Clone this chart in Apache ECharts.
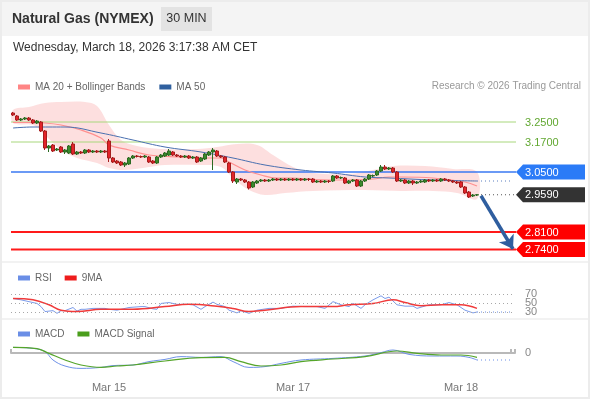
<!DOCTYPE html>
<html>
<head>
<meta charset="utf-8">
<script src="https://cdn.jsdelivr.net/npm/echarts@6/dist/echarts.min.js"></script>
<style>
  html, body { margin: 0; padding: 0; background: #fff; }
  #chart { width: 590px; height: 400px; }
</style>
</head>
<body>
<div id="chart"></div>
<script>
// 30 min candles, [open, close, low, high]
const candles = [
  [3.286,3.278,3.274,3.290],[3.274,3.258,3.254,3.278],[3.258,3.262,3.254,3.266],[3.262,3.266,3.258,3.270],
  [3.266,3.258,3.254,3.270],[3.258,3.246,3.242,3.262],[3.246,3.254,3.242,3.258],[3.250,3.214,3.210,3.254],
  [3.214,3.146,3.138,3.218],[3.146,3.154,3.130,3.158],[3.158,3.134,3.130,3.162],[3.138,3.142,3.134,3.146],
  [3.150,3.130,3.126,3.154],[3.130,3.138,3.122,3.142],[3.126,3.154,3.122,3.158],[3.162,3.122,3.118,3.170],
  [3.122,3.130,3.118,3.134],[3.130,3.126,3.122,3.134],[3.126,3.138,3.122,3.142],[3.138,3.130,3.126,3.142],
  [3.130,3.134,3.126,3.138],[3.134,3.130,3.126,3.138],[3.130,3.134,3.126,3.138],[3.134,3.130,3.126,3.138],
  [3.174,3.106,3.090,3.182],[3.106,3.090,3.086,3.110],[3.094,3.086,3.082,3.098],[3.090,3.078,3.074,3.094],
  [3.078,3.086,3.070,3.090],[3.082,3.106,3.078,3.110],[3.106,3.114,3.102,3.118],[3.114,3.112,3.108,3.118],
  [3.112,3.110,3.106,3.116],[3.110,3.114,3.106,3.118],[3.110,3.090,3.086,3.114],[3.094,3.086,3.082,3.098],
  [3.086,3.110,3.082,3.114],[3.110,3.118,3.106,3.122],[3.114,3.126,3.110,3.130],[3.118,3.134,3.114,3.142],
  [3.130,3.118,3.114,3.134],[3.118,3.114,3.110,3.122],[3.114,3.110,3.106,3.118],[3.110,3.114,3.106,3.118],
  [3.114,3.106,3.102,3.118],[3.106,3.110,3.102,3.114],[3.110,3.090,3.086,3.114],[3.094,3.106,3.090,3.110],
  [3.102,3.122,3.098,3.126],[3.118,3.130,3.114,3.134],[3.130,3.138,3.058,3.146],[3.134,3.114,3.110,3.138],
  [3.114,3.110,3.106,3.118],[3.110,3.090,3.086,3.114],[3.086,3.050,3.046,3.090],[3.050,3.014,3.006,3.054],
  [3.010,3.022,3.002,3.026],[3.022,3.018,3.014,3.026],[3.018,3.010,3.006,3.022],[3.010,2.986,2.980,3.014],
  [2.990,3.010,2.986,3.014],[3.006,3.014,3.002,3.018],[3.014,3.018,3.010,3.022],[3.018,3.014,3.010,3.022],
  [3.014,3.018,3.010,3.022],[3.018,3.022,3.014,3.026],[3.022,3.018,3.014,3.026],[3.018,3.022,3.014,3.026],
  [3.022,3.018,3.014,3.026],[3.018,3.022,3.014,3.026],[3.022,3.018,3.014,3.026],[3.018,3.022,3.014,3.026],
  [3.022,3.018,3.014,3.026],[3.018,3.022,3.014,3.026],[3.022,3.020,3.014,3.026],[3.022,3.010,3.006,3.026],
  [3.010,3.014,3.006,3.018],[3.014,3.010,3.006,3.018],[3.010,3.014,3.006,3.018],[3.014,3.012,3.006,3.018],
  [3.014,3.034,3.010,3.038],[3.034,3.026,3.022,3.038],[3.026,3.028,3.022,3.032],[3.026,3.006,3.002,3.030],
  [3.006,3.014,3.002,3.018],[3.014,3.018,3.010,3.022],[3.018,2.994,2.990,3.022],[2.994,3.014,2.990,3.018],
  [3.014,3.022,3.010,3.026],[3.022,3.038,3.018,3.042],[3.034,3.036,3.030,3.040],[3.038,3.054,3.034,3.058],
  [3.054,3.070,3.050,3.078],[3.070,3.062,3.058,3.078],[3.062,3.066,3.058,3.070],[3.066,3.050,3.046,3.070],
  [3.050,3.014,3.010,3.054],[3.014,3.018,3.010,3.022],[3.018,3.006,3.002,3.022],[3.006,3.014,3.002,3.018],
  [3.014,3.006,2.998,3.018],[3.006,3.010,3.002,3.014],[3.010,3.014,3.006,3.018],[3.010,3.018,3.006,3.022],
  [3.018,3.014,3.010,3.022],[3.014,3.018,3.010,3.022],[3.018,3.014,3.010,3.022],[3.014,3.022,3.010,3.026],
  [3.022,3.018,3.014,3.026],[3.018,3.014,3.010,3.022],[3.014,3.010,3.006,3.018],[3.010,3.006,3.002,3.014],
  [3.010,2.990,2.986,3.014],[2.990,2.966,2.962,2.994],[2.970,2.950,2.946,2.974],[2.954,2.958,2.950,2.962],
  [2.958,2.959,2.954,2.962]
];

// indicator readings [slot, value]
const ma20 = [[0,3.248],[4,3.248],[8,3.246],[12,3.238],[17,3.218],[22,3.186],[24,3.158],[29,3.138],[34,3.118],
  [42,3.110],[47,3.106],[52,3.106],[54,3.090],[58,3.058],[62,3.038],[66,3.026],[70,3.026],[75,3.020],[84,3.018],
  [90,3.022],[94,3.030],[97,3.030],[105,3.026],[113,3.010],[116,2.994]];
const ma50 = [[0,3.226],[5,3.230],[13,3.230],[22,3.206],[30,3.178],[38,3.150],[47,3.130],[55,3.106],[63,3.078],
  [72,3.058],[80,3.046],[88,3.030],[94,3.026],[105,3.018],[116,3.014]];
const bbUpper = [[0,3.298],[4,3.310],[8,3.326],[12,3.330],[18,3.330],[21,3.314],[24,3.238],[27,3.178],[31,3.154],
  [37,3.142],[46,3.142],[51,3.150],[56,3.162],[61,3.158],[65,3.118],[70,3.070],[75,3.046],[84,3.042],[90,3.058],
  [95,3.074],[103,3.074],[110,3.062],[116,3.050]];
const bbLower = [[0,3.246],[5,3.238],[8,3.198],[12,3.138],[16,3.106],[21,3.086],[24,3.066],[28,3.058],[34,3.070],
  [38,3.078],[47,3.078],[52,3.070],[55,3.026],[59,2.978],[63,2.958],[68,2.966],[75,2.974],[88,2.978],[97,2.974],
  [105,2.974],[111,2.966],[116,2.942]];
const rsi = [[0,60],[2,57],[5,51],[6,49],[7,42],[8,31],[9,32],[10,33],[11,27],[12,33],[13,33],[15,40],[16,32],
  [17,36],[18,36],[20,38],[23,38],[24,36],[26,34],[29,40],[32,42],[33,42],[35,37],[36,36],[37,49],[39,51],[41,47],
  [43,47],[45,46],[47,36],[48,42],[50,52],[51,47],[53,42],[54,34],[56,28],[57,33],[59,27],[61,34],[64,38],[67,38],
  [70,43],[73,42],[76,42],[78,38],[80,53],[82,46],[84,42],[85,49],[87,38],[88,46],[90,57],[92,66],[93,60],[94,63],
  [96,46],[98,43],[100,43],[101,38],[104,46],[107,46],[109,51],[111,46],[113,34],[115,28],[116,30]];
const rsiMa9 = [[0,60],[5,57],[9,46],[12,34],[16,31],[22,36],[30,36],[38,42],[44,47],[51,43],[55,38],[59,31],
  [63,34],[72,42],[80,42],[84,46],[90,49],[95,57],[98,51],[102,44],[107,46],[112,46],[116,38]];
const macd = [[0,0.0028],[5,0.0023],[8,0.0007],[10,-0.0035],[13,-0.0065],[17,-0.0077],[22,-0.0072],[25,-0.0063],
  [30,-0.0060],[34,-0.0043],[38,-0.0032],[42,-0.0018],[47,-0.0022],[52,-0.0018],[55,-0.0043],[59,-0.0072],
  [63,-0.0068],[67,-0.0052],[72,-0.0035],[80,-0.0027],[88,-0.0015],[92,0.0002],[95,0.0015],[99,-0.0007],
  [105,-0.0015],[111,-0.0015],[114,-0.0022],[116,-0.0035]];
const macdSignal = [[0,0.0028],[6,0.0022],[9,-0.0002],[13,-0.0035],[17,-0.0060],[22,-0.0072],[26,-0.0065],
  [30,-0.0060],[38,-0.0040],[47,-0.0023],[53,-0.0022],[57,-0.0043],[62,-0.0065],[67,-0.0060],[72,-0.0043],
  [80,-0.0030],[88,-0.0018],[96,0.0010],[101,-0.0002],[107,-0.0010],[112,-0.0010],[116,-0.0022]];

// key levels and target arrow
const levelPrices = [3.25, 3.17, 3.05, 2.959, 2.81, 2.74];
const levelLabels = ['3.2500', '3.1700', '3.0500', '2.9590', '2.8100', '2.7400'];
const arrowFrom = [117, 2.955];
const arrowTo = [125, 2.742];

// x axis
const slotCount = 126;
const dayLabels = ['Mar 15', 'Mar 17', 'Mar 18'];
const dayLabelSlots = [24, 70, 112];
const rsiTicks = [30, 50, 70];

const categories = [];
for (let i = 0; i < slotCount; i++) categories.push('s' + i);
const lastSlot = candles.length - 1;
const endSlot = slotCount - 1;

const FONT = '"Liberation Sans", Arial, sans-serif';
const levelLook = [
  { line: '#a8d77c', width: 1, text: '#62a832' },
  { line: '#a8d77c', width: 1, text: '#62a832' },
  { line: '#3a78f2', width: 1.5, text: '#fff', tag: '#2b7bf7' },
  { dotted: '#555', text: '#fff', tag: '#333' },
  { line: '#ff1a1a', width: 2, text: '#fff', tag: '#ff0000' },
  { line: '#ff1a1a', width: 2, text: '#fff', tag: '#ff0000' }
];

const chart = echarts.init(document.getElementById('chart'));

function xAxisFor(idx, show) {
  return {
    type: 'category', gridIndex: idx, data: categories, boundaryGap: true, show: true,
    axisLine: { show: show, lineStyle: { color: '#b9b9b9', width: 2 } },
    axisTick: {
      show: show, inside: true, length: 4, lineStyle: { color: '#b9b9b9', width: 2 },
      interval: function (i) { return i === 0 || i === endSlot; }
    },
    axisLabel: {
      show: show, interval: 0, color: '#777', fontSize: 11, fontFamily: FONT, margin: 9,
      formatter: function (v, i) {
        const k = dayLabelSlots.indexOf(i);
        return k >= 0 ? dayLabels[k] : '';
      }
    },
    splitLine: { show: false }
  };
}

function ext(data, idx, color) {
  const last = data[data.length - 1][1];
  return {
    type: 'line', xAxisIndex: idx, yAxisIndex: idx, silent: true, showSymbol: false, z: 3,
    data: [[lastSlot, last], [endSlot, last]],
    lineStyle: { color: color, width: 1, type: [1, 3] }
  };
}

const option = {
  animation: false,
  backgroundColor: '#fff',
  textStyle: { fontFamily: FONT },
  graphic: [
    { type: 'rect', shape: { x: 0, y: 0, width: 590, height: 36 }, style: { fill: '#f4f4f4' }, z: -1 },
    { type: 'rect', shape: { x: 161, y: 7, width: 51, height: 24 }, style: { fill: '#e3e3e3' } },
    { type: 'text', x: 12, y: 19, style: { text: 'Natural Gas (NYMEX)', font: 'bold 14px ' + FONT, fill: '#333', verticalAlign: 'middle' } },
    { type: 'text', x: 186.5, y: 19, style: { text: '30 MIN', font: '12.5px ' + FONT, fill: '#333', align: 'center', verticalAlign: 'middle' } },
    { type: 'text', x: 13, y: 48, style: { text: 'Wednesday, March 18, 2026 3:17:38 AM CET', font: '12px ' + FONT, fill: '#333', verticalAlign: 'middle' } },
    { type: 'text', x: 581, y: 86, style: { text: 'Research \u00a9 2026 Trading Central', font: '10px ' + FONT, fill: '#999', align: 'right', verticalAlign: 'middle' } },
    { type: 'line', shape: { x1: 0, y1: 262, x2: 590, y2: 262 }, style: { stroke: '#eeeeee', lineWidth: 1.5 } },
    { type: 'line', shape: { x1: 0, y1: 319, x2: 590, y2: 319 }, style: { stroke: '#eeeeee', lineWidth: 1.5 } },
    { type: 'rect', shape: { x: 1, y: 1, width: 588, height: 397 }, style: { fill: 'none', stroke: '#ececec', lineWidth: 2 } }
  ],
  legend: [
    { left: 13, top: 77, icon: 'rect', itemWidth: 12, itemHeight: 5, itemGap: 14, selectedMode: false,
      textStyle: { color: '#666', fontSize: 10, fontFamily: FONT }, data: ['MA 20 + Bollinger Bands', 'MA 50'] },
    { left: 13, top: 268, icon: 'rect', itemWidth: 12, itemHeight: 5, itemGap: 13, selectedMode: false,
      textStyle: { color: '#666', fontSize: 10, fontFamily: FONT }, data: ['RSI', '9MA'] },
    { left: 13, top: 324, icon: 'rect', itemWidth: 12, itemHeight: 5, itemGap: 13, selectedMode: false,
      textStyle: { color: '#666', fontSize: 10, fontFamily: FONT }, data: ['MACD', 'MACD Signal'] }
  ],
  grid: [
    { left: 11, right: 75, top: 100, height: 158 },
    { left: 11, right: 75, top: 291.75, height: 22.5 },
    { left: 11, right: 75, top: 340, height: 33 }
  ],
  xAxis: [xAxisFor(0, false), xAxisFor(1, false), xAxisFor(2, true)],
  yAxis: [
    { gridIndex: 0, min: 2.706, max: 3.338, show: false },
    { gridIndex: 1, min: 25, max: 75, show: false },
    { gridIndex: 2, min: -0.01, max: 0.0065, position: 'right',
      axisLine: { show: false }, axisTick: { show: false }, splitLine: { show: false },
      axisLabel: { customValues: [0], color: '#888', fontSize: 11, fontFamily: FONT, margin: 10 } }
  ],
  series: [
    {
      type: 'custom', name: 'bands', xAxisIndex: 0, yAxisIndex: 0, silent: true, z: 1,
      data: [[0, 3.0]],
      renderItem: function (params, api) {
        const pts = bbUpper.map(function (d) { return api.coord(d); })
          .concat(bbLower.slice().reverse().map(function (d) { return api.coord(d); }));
        return { type: 'polygon', shape: { points: pts, smooth: 0.35 }, style: { fill: 'rgba(248,140,140,0.28)' } };
      }
    },
    {
      type: 'custom', name: 'levels', xAxisIndex: 0, yAxisIndex: 0, silent: true, z: 2, clip: false,
      data: levelPrices.map(function (p) { return [0, p]; }),
      encode: { x: 0, y: 1 },
      renderItem: function (params, api) {
        const look = levelLook[params.dataIndex];
        const cs = params.coordSys;
        const xL = cs.x, xR = cs.x + cs.width;
        const y = api.coord([0, api.value(1)])[1];
        const kids = [];
        if (look.line) kids.push({ type: 'line', shape: { x1: xL, y1: y, x2: xR + 1, y2: y }, style: { stroke: look.line, lineWidth: look.width } });
        if (look.dotted) {
          const xs = api.coord([lastSlot + 1, api.value(1)])[0];
          kids.push({ type: 'line', shape: { x1: xs, y1: y, x2: xR, y2: y }, style: { stroke: look.dotted, lineWidth: 1, lineDash: [1, 3] } });
        }
        if (look.tag) kids.push({ type: 'polygon', shape: { points: [[xR + 1, y], [xR + 8, y - 7.5], [xR + 70, y - 7.5], [xR + 70, y + 7.5], [xR + 8, y + 7.5]] }, style: { fill: look.tag } });
        kids.push({ type: 'text', style: { text: levelLabels[params.dataIndex], x: xR + 10, y: y + 0.5, verticalAlign: 'middle', fill: look.text, font: '11px ' + FONT } });
        return { type: 'group', children: kids };
      }
    },
    {
      type: 'line', name: 'MA 20 + Bollinger Bands', xAxisIndex: 0, yAxisIndex: 0, data: ma20, smooth: 0.4,
      showSymbol: false, z: 3, color: '#ff8585', lineStyle: { color: '#ff9090', width: 1.2 }
    },
    {
      type: 'line', name: 'MA 50', xAxisIndex: 0, yAxisIndex: 0, data: ma50, smooth: 0.4,
      showSymbol: false, z: 3, color: '#30609f', lineStyle: { color: '#4a70b0', width: 1 }
    },
    ext(ma50, 0, '#5a7fc0'),
    {
      type: 'candlestick', name: 'Natural Gas', xAxisIndex: 0, yAxisIndex: 0, data: candles, barWidth: 3, z: 4,
      itemStyle: { color: '#3b8a2c', color0: '#e3242a', borderColor: '#2c6a22', borderColor0: '#a51d1d', borderWidth: 1 },
      markLine: {
        silent: true, symbol: ['none', 'arrow'], symbolSize: 13, z: 6,
        label: { show: false },
        lineStyle: { color: '#2f5e9f', width: 3.5, type: 'solid' },
        data: [[{ coord: arrowFrom }, { coord: arrowTo }]]
      }
    },
    {
      type: 'line', name: 'RSI', xAxisIndex: 1, yAxisIndex: 1, data: rsi, showSymbol: false, z: 3,
      color: '#6a8ee6', lineStyle: { color: '#7b9bea', width: 1 },
      markLine: {
        silent: true, symbol: 'none',
        label: { show: true, position: 'end', distance: 10, formatter: '{c}', color: '#888', fontSize: 11, fontFamily: FONT },
        lineStyle: { color: '#a8a8a8', width: 1, type: [1, 3] },
        data: rsiTicks.map(function (v) { return { yAxis: v }; })
      }
    },
    ext(rsi, 1, '#6a8ee6'),
    {
      type: 'line', name: '9MA', xAxisIndex: 1, yAxisIndex: 1, data: rsiMa9, smooth: 0.4, showSymbol: false, z: 4,
      color: '#ee1c1c', lineStyle: { color: '#f03a3a', width: 1.5 }
    },
    {
      type: 'line', name: 'MACD', xAxisIndex: 2, yAxisIndex: 2, data: macd, smooth: 0.4, showSymbol: false, z: 3,
      color: '#6a8ee6', lineStyle: { color: '#6f92e8', width: 1 }
    },
    ext(macd, 2, '#6a8ee6'),
    {
      type: 'line', name: 'MACD Signal', xAxisIndex: 2, yAxisIndex: 2, data: macdSignal, smooth: 0.4, showSymbol: false, z: 3,
      color: '#4a9e1c', lineStyle: { color: '#55a52a', width: 1.2 }
    }
  ]
};

chart.setOption(option);
</script>
</body>
</html>
